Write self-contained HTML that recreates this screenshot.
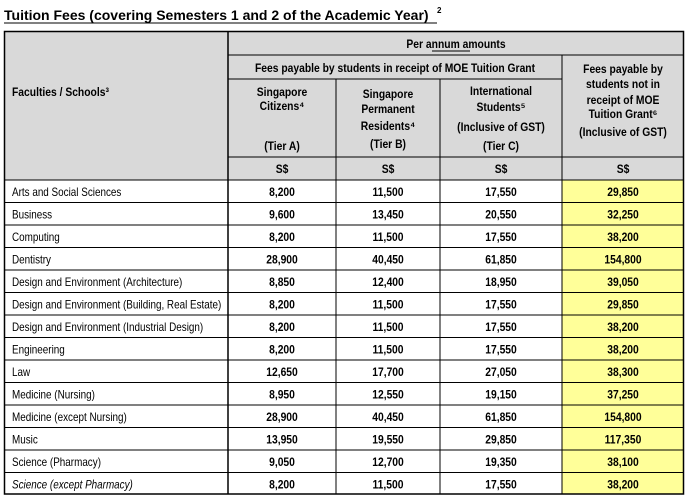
<!DOCTYPE html>
<html><head><meta charset="utf-8"><style>
html,body{margin:0;padding:0;background:#fff;}
svg{display:block;font-family:"Liberation Sans",Arial,sans-serif;}
</style></head><body>
<svg width="689" height="499" viewBox="0 0 689 499" xmlns="http://www.w3.org/2000/svg">
<text transform="translate(4,20) scale(1.0,1)" font-size="14" font-weight="bold" fill="#000">Tuition Fees (covering Semesters 1 and 2 of the Academic Year)</text>
<text x="437" y="13" font-size="8" font-weight="bold">2</text>
<line x1="4" y1="23" x2="437" y2="23" stroke="#000" stroke-width="1"/>
<rect x="4" y="31" width="680" height="149" fill="#d9d9d9"/>
<rect x="562" y="180" width="122" height="314" fill="#ffff99"/>
<g stroke="#000" stroke-width="1" fill="none">
<rect x="4.5" y="31.5" width="679" height="462.5" stroke-width="1.5"/>
<line x1="228" y1="31" x2="228" y2="494" stroke-width="1.5"/>
<line x1="228" y1="55" x2="684" y2="55"/>
<line x1="228" y1="79" x2="562" y2="79"/>
<line x1="562" y1="55" x2="562" y2="494"/>
<line x1="336" y1="79" x2="336" y2="494"/>
<line x1="440" y1="79" x2="440" y2="494"/>
<line x1="228" y1="157" x2="684" y2="157"/>
<line x1="4" y1="180" x2="684" y2="180"/>
<line x1="4" y1="202.5" x2="684" y2="202.5"/>
<line x1="4" y1="225" x2="684" y2="225"/>
<line x1="4" y1="247.5" x2="684" y2="247.5"/>
<line x1="4" y1="270" x2="684" y2="270"/>
<line x1="4" y1="292.5" x2="684" y2="292.5"/>
<line x1="4" y1="315" x2="684" y2="315"/>
<line x1="4" y1="337.5" x2="684" y2="337.5"/>
<line x1="4" y1="360" x2="684" y2="360"/>
<line x1="4" y1="382.5" x2="684" y2="382.5"/>
<line x1="4" y1="405" x2="684" y2="405"/>
<line x1="4" y1="427.5" x2="684" y2="427.5"/>
<line x1="4" y1="450" x2="684" y2="450"/>
<line x1="4" y1="472.5" x2="684" y2="472.5"/>
</g>
<g font-size="12" font-weight="bold" text-anchor="middle" fill="#000">
<text transform="translate(456,48) scale(0.86,1)">Per annum amounts</text>
<line x1="432" y1="51" x2="470" y2="51" stroke="#000"/>
<text transform="translate(395,72) scale(0.86,1)">Fees payable by students in receipt of MOE Tuition Grant</text>
<text transform="translate(282,96) scale(0.86,1)">Singapore</text>
<text transform="translate(282,110) scale(0.86,1)">Citizens⁴</text>
<text transform="translate(282,150) scale(0.86,1)">(Tier A)</text>
<text transform="translate(388,98) scale(0.86,1)">Singapore</text>
<text transform="translate(388,113) scale(0.86,1)">Permanent</text>
<text transform="translate(388,130) scale(0.86,1)">Residents⁴</text>
<text transform="translate(388,148) scale(0.86,1)">(Tier B)</text>
<text transform="translate(501,95) scale(0.86,1)">International</text>
<text transform="translate(501,111) scale(0.86,1)">Students⁵</text>
<text transform="translate(501,131) scale(0.86,1)">(Inclusive of GST)</text>
<text transform="translate(501,150) scale(0.86,1)">(Tier C)</text>
<text transform="translate(623,73) scale(0.86,1)">Fees payable by</text>
<text transform="translate(623,88) scale(0.86,1)">students not in</text>
<text transform="translate(623,104) scale(0.86,1)">receipt of MOE</text>
<text transform="translate(623,118) scale(0.86,1)">Tuition Grant⁶</text>
<text transform="translate(623,136) scale(0.86,1)">(Inclusive of GST)</text>
<text transform="translate(282,173) scale(0.86,1)">S$</text>
<text transform="translate(388,173) scale(0.86,1)">S$</text>
<text transform="translate(501,173) scale(0.86,1)">S$</text>
<text transform="translate(623,173) scale(0.86,1)">S$</text>
</g>
<text transform="translate(12,96) scale(0.86,1)" font-size="12" font-weight="bold">Faculties / Schools³</text>
<g font-size="11.5" fill="#000">
<text transform="translate(12,196) scale(0.86,1)">Arts and Social Sciences</text>
<text transform="translate(12,218.5) scale(0.86,1)">Business</text>
<text transform="translate(12,241) scale(0.86,1)">Computing</text>
<text transform="translate(12,263.5) scale(0.86,1)">Dentistry</text>
<text transform="translate(12,286) scale(0.86,1)">Design and Environment (Architecture)</text>
<text transform="translate(12,308.5) scale(0.86,1)">Design and Environment (Building, Real Estate)</text>
<text transform="translate(12,331) scale(0.86,1)">Design and Environment (Industrial Design)</text>
<text transform="translate(12,353.5) scale(0.86,1)">Engineering</text>
<text transform="translate(12,376) scale(0.86,1)">Law</text>
<text transform="translate(12,398.5) scale(0.86,1)">Medicine (Nursing)</text>
<text transform="translate(12,421) scale(0.86,1)">Medicine (except Nursing)</text>
<text transform="translate(12,443.5) scale(0.86,1)">Music</text>
<text transform="translate(12,466) scale(0.86,1)">Science (Pharmacy)</text>
<text transform="translate(12,488.5) scale(0.86,1)" font-style="italic">Science (except Pharmacy)</text>
</g>
<g font-size="12" font-weight="bold" text-anchor="middle" fill="#000">
<text transform="translate(282,196) scale(0.86,1)">8,200</text><text transform="translate(388,196) scale(0.86,1)">11,500</text><text transform="translate(501,196) scale(0.86,1)">17,550</text><text transform="translate(623,196) scale(0.86,1)">29,850</text>
<text transform="translate(282,218.5) scale(0.86,1)">9,600</text><text transform="translate(388,218.5) scale(0.86,1)">13,450</text><text transform="translate(501,218.5) scale(0.86,1)">20,550</text><text transform="translate(623,218.5) scale(0.86,1)">32,250</text>
<text transform="translate(282,241) scale(0.86,1)">8,200</text><text transform="translate(388,241) scale(0.86,1)">11,500</text><text transform="translate(501,241) scale(0.86,1)">17,550</text><text transform="translate(623,241) scale(0.86,1)">38,200</text>
<text transform="translate(282,263.5) scale(0.86,1)">28,900</text><text transform="translate(388,263.5) scale(0.86,1)">40,450</text><text transform="translate(501,263.5) scale(0.86,1)">61,850</text><text transform="translate(623,263.5) scale(0.86,1)">154,800</text>
<text transform="translate(282,286) scale(0.86,1)">8,850</text><text transform="translate(388,286) scale(0.86,1)">12,400</text><text transform="translate(501,286) scale(0.86,1)">18,950</text><text transform="translate(623,286) scale(0.86,1)">39,050</text>
<text transform="translate(282,308.5) scale(0.86,1)">8,200</text><text transform="translate(388,308.5) scale(0.86,1)">11,500</text><text transform="translate(501,308.5) scale(0.86,1)">17,550</text><text transform="translate(623,308.5) scale(0.86,1)">29,850</text>
<text transform="translate(282,331) scale(0.86,1)">8,200</text><text transform="translate(388,331) scale(0.86,1)">11,500</text><text transform="translate(501,331) scale(0.86,1)">17,550</text><text transform="translate(623,331) scale(0.86,1)">38,200</text>
<text transform="translate(282,353.5) scale(0.86,1)">8,200</text><text transform="translate(388,353.5) scale(0.86,1)">11,500</text><text transform="translate(501,353.5) scale(0.86,1)">17,550</text><text transform="translate(623,353.5) scale(0.86,1)">38,200</text>
<text transform="translate(282,376) scale(0.86,1)">12,650</text><text transform="translate(388,376) scale(0.86,1)">17,700</text><text transform="translate(501,376) scale(0.86,1)">27,050</text><text transform="translate(623,376) scale(0.86,1)">38,300</text>
<text transform="translate(282,398.5) scale(0.86,1)">8,950</text><text transform="translate(388,398.5) scale(0.86,1)">12,550</text><text transform="translate(501,398.5) scale(0.86,1)">19,150</text><text transform="translate(623,398.5) scale(0.86,1)">37,250</text>
<text transform="translate(282,421) scale(0.86,1)">28,900</text><text transform="translate(388,421) scale(0.86,1)">40,450</text><text transform="translate(501,421) scale(0.86,1)">61,850</text><text transform="translate(623,421) scale(0.86,1)">154,800</text>
<text transform="translate(282,443.5) scale(0.86,1)">13,950</text><text transform="translate(388,443.5) scale(0.86,1)">19,550</text><text transform="translate(501,443.5) scale(0.86,1)">29,850</text><text transform="translate(623,443.5) scale(0.86,1)">117,350</text>
<text transform="translate(282,466) scale(0.86,1)">9,050</text><text transform="translate(388,466) scale(0.86,1)">12,700</text><text transform="translate(501,466) scale(0.86,1)">19,350</text><text transform="translate(623,466) scale(0.86,1)">38,100</text>
<text transform="translate(282,488.5) scale(0.86,1)">8,200</text><text transform="translate(388,488.5) scale(0.86,1)">11,500</text><text transform="translate(501,488.5) scale(0.86,1)">17,550</text><text transform="translate(623,488.5) scale(0.86,1)">38,200</text>
</g>
</svg>
</body></html>
